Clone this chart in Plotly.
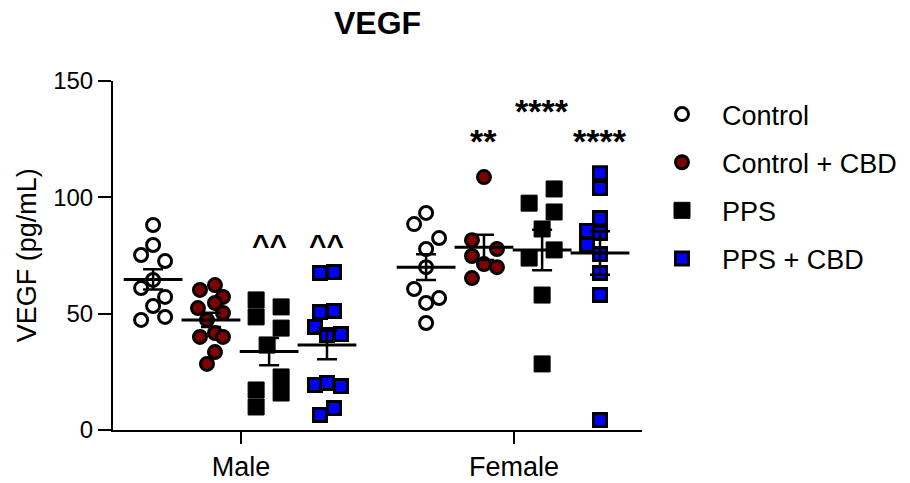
import numpy as np
import plotly.graph_objects as go

FONT = "Liberation Sans, Arial, sans-serif"

# ---------------- data ----------------
sexes = ["Male", "Female"]
groups = ["Control", "Control + CBD", "PPS", "PPS + CBD"]

male_control = [88.1, 79.5, 75.2, 72.6, 64.5, 61.0, 57.2, 53.3, 47.3, 48.6]
male_control_cbd = [60.2, 62.3, 57.2, 52.4, 54.6, 50.3, 47.3, 41.7, 40.0, 40.0, 33.5, 28.4]
male_pps = [55.9, 48.6, 52.9, 43.8, 36.5, 22.8, 15.9, 17.2, 9.9]
male_pps_cbd = [67.5, 67.9, 50.7, 51.1, 44.3, 40.8, 41.3, 19.3, 20.2, 18.9, 6.4, 9.5]

female_control = [93.3, 88.5, 82.5, 77.8, 70.0, 60.6, 56.7, 54.6, 46.0]
female_control_cbd = [108.7, 81.6, 74.8, 77.8, 71.3, 70.0, 65.3]
female_pps = [103.6, 97.5, 93.7, 86.4, 77.4, 73.9, 58.0, 28.4]
female_pps_cbd = [110.4, 104.0, 91.1, 85.5, 84.7, 79.5, 75.6, 67.5, 58.0, 4.3]

significance = {  # (sex, group): label
    ("Male", "PPS"): "^^",
    ("Male", "PPS + CBD"): "^^",
    ("Female", "Control + CBD"): "**",
    ("Female", "PPS"): "****",
    ("Female", "PPS + CBD"): "****",
}
sig_height = {  # y position of the significance label (pg/mL)
    ("Male", "PPS"): 81.5,
    ("Male", "PPS + CBD"): 81.5,
    ("Female", "Control + CBD"): 126,
    ("Female", "PPS"): 139,
    ("Female", "PPS + CBD"): 126,
}

# ---------------- presentation ----------------
PX_PER_UNIT = 273.0
group_offset = [-0.322, -0.110, 0.103, 0.315]
# horizontal scatter of the points within each column (pixels)
jitter_px = {
    ("Male", 0): [0, 0, -12, 12, 0, -12, 12, 0, -12, 12],
    ("Male", 1): [-11, 4, 12, -13, 4, 12, -4, 4, -11, 12, 4, -4],
    ("Male", 2): [-13, -13, 12, 12, -2, 12, 12, -13, -13],
    ("Male", 3): [-7, 7, -7, 7, -12, 0, 14, -12, 0, 14, -7, 7],
    ("Female", 0): [0, -12, 13, 0, 0, -12, 13, 0, 0],
    ("Female", 1): [0, -12, -12, 13, 0, 13, -12],
    ("Female", 2): [12, -13, 12, 0, 12, -13, 0, 0],
    ("Female", 3): [0, 0, 0, -13, 0, -13, 0, 0, 0, 0],
}
data = {
    "Male": [male_control, male_control_cbd, male_pps, male_pps_cbd],
    "Female": [female_control, female_control_cbd, female_pps, female_pps_cbd],
}
styles = [
    dict(symbol="circle", size=13, color="white", line=dict(color="black", width=3)),
    dict(symbol="circle", size=13, color="#7f0000", line=dict(color="black", width=3)),
    dict(symbol="square", size=16, color="black", line=dict(color="black", width=1)),
    dict(symbol="square", size=13, color="#0000ff", line=dict(color="black", width=3)),
]

fig = go.Figure()

for gi, gname in enumerate(groups):
    xs, ys = [], []
    for si, sex in enumerate(sexes):
        vals = data[sex][gi]
        jit = jitter_px[(sex, gi)]
        for v, j in zip(vals, jit):
            xs.append(si + 1 + group_offset[gi] + j / PX_PER_UNIT)
            ys.append(v)
    fig.add_trace(go.Scatter(
        x=xs, y=ys, mode="markers", name=gname, marker=styles[gi],
        legendgroup=gname, showlegend=True, cliponaxis=False,
    ))

# mean +/- SEM
for gi, gname in enumerate(groups):
    mx, my, me = [], [], []
    for si, sex in enumerate(sexes):
        vals = np.array(data[sex][gi])
        mx.append(si + 1 + group_offset[gi])
        my.append(vals.mean())
        me.append(vals.std(ddof=1) / np.sqrt(len(vals)))
    fig.add_trace(go.Scatter(
        x=mx, y=my, mode="markers", showlegend=False, hoverinfo="skip",
        marker=dict(symbol="line-ew", size=42, color="black",
                    line=dict(color="black", width=3)),
        error_y=dict(type="data", array=me, visible=True, color="black",
                     thickness=2.5, width=10),
        cliponaxis=False,
    ))

annotations = []
for (sex, gname), label in significance.items():
    si = sexes.index(sex)
    gi = groups.index(gname)
    caret = label.startswith("^")
    annotations.append(dict(
        x=si + 1 + group_offset[gi], y=sig_height[(sex, gname)],
        xref="x", yref="y", text="<b>" + label + "</b>", showarrow=False,
        font=dict(family=FONT, size=30 if caret else 34, color="black"),
        xanchor="center", yanchor="middle", yshift=-4,
    ))
annotations.append(dict(
    x=-0.163, y=0.5, xref="paper", yref="paper", text="VEGF (pg/mL)",
    textangle=-90, showarrow=False, xanchor="center", yanchor="middle",
    font=dict(family=FONT, size=27, color="black"),
))

fig.update_layout(
    width=910, height=483,
    margin=dict(l=113, r=268, t=81, b=53, autoexpand=False),
    paper_bgcolor="white", plot_bgcolor="white",
    font=dict(family=FONT, color="black"),
    title=dict(text="<b>VEGF</b>", x=0.5, xref="paper", y=1 - 23 / 483,
               yanchor="middle", xanchor="center",
               font=dict(family=FONT, size=32, color="black")),
    xaxis=dict(range=[1 - 128 / PX_PER_UNIT, 2 + 128 / PX_PER_UNIT],
               tickvals=[1, 2], ticktext=sexes, ticks="outside", ticklen=12,
               tickwidth=2, tickcolor="black", showline=True, linewidth=2,
               linecolor="black", showgrid=False, zeroline=False,
               tickfont=dict(family=FONT, size=27, color="black")),
    yaxis=dict(range=[0, 150], tickvals=[0, 50, 100, 150], ticks="outside",
               ticklen=13, tickwidth=2, tickcolor="black", showline=True,
               linewidth=2, linecolor="black", showgrid=False, zeroline=False,
               tickfont=dict(family=FONT, size=24, color="black")),
    legend=dict(x=1.0, y=0.974, xanchor="left", yanchor="top",
                traceorder="grouped", tracegroupgap=10, itemwidth=70,
                font=dict(family=FONT, size=27, color="black"),
                bgcolor="rgba(0,0,0,0)"),
    annotations=annotations,
    showlegend=True,
)

fig.write_html("out.html")
